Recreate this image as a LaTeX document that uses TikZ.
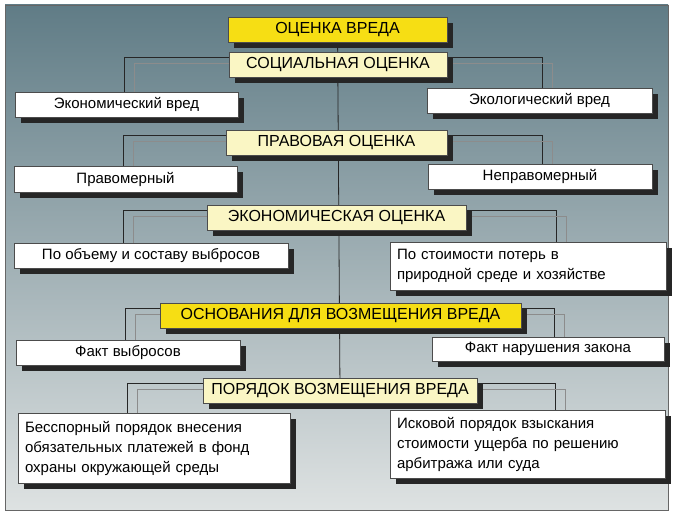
\documentclass[tikz,border=0pt]{standalone}
\usepackage{fontspec}
\setmainfont{Liberation Sans}
\usetikzlibrary{shadows}
\pgfdeclarelayer{back}
\pgfdeclarelayer{wires}
\pgfsetlayers{back,wires,main}
\definecolor{topblue}{RGB}{96,124,134}
\definecolor{lowgray}{RGB}{222,226,226}
\definecolor{gold}{RGB}{246,222,20}
\definecolor{pale}{RGB}{250,246,196}
\tikzset{
  box/.style={draw=black!70,fill=white,inner sep=0pt,font=\fontsize{15}{20}\selectfont,
    drop shadow={shadow xshift=6pt,shadow yshift=-6pt,fill=black!85,opacity=1}},
  head/.style={box,fill=pale,font=\fontsize{16}{18}\selectfont},
  mainhead/.style={head,fill=gold},
  link/.style={draw=black!85,line width=0.8pt},
  sublink/.style={draw=black!45,line width=0.8pt},
}
\begin{document}
\begin{tikzpicture}[x=1pt,y=-1pt]
\useasboundingbox (0,0) rectangle (676,521);
\begin{pgfonlayer}{back}
\fill[white] (0,0) rectangle (676,521);
\shade[top color=topblue,bottom color=lowgray,draw=black!60] (5,5) rectangle (668,510);
\end{pgfonlayer}

% headers
\node[mainhead,minimum width=219,minimum height=25] (harm) at (337.5,29.5) {ОЦЕНКА ВРЕДА};
\node[head,minimum width=218,minimum height=25] (social) at (338,64.5) {СОЦИАЛЬНАЯ ОЦЕНКА};
\node[head,minimum width=221,minimum height=25] (legal) at (336.5,142.5) {ПРАВОВАЯ ОЦЕНКА};
\node[head,minimum width=259,minimum height=25] (econ) at (336.5,217.5) {ЭКОНОМИЧЕСКАЯ ОЦЕНКА};
\node[mainhead,minimum width=361,minimum height=25] (ground) at (340.5,315.5) {ОСНОВАНИЯ ДЛЯ ВОЗМЕЩЕНИЯ ВРЕДА};
\node[head,minimum width=274,minimum height=25] (order) at (340,390.5) {ПОРЯДОК ВОЗМЕЩЕНИЯ ВРЕДА};

% children
\node[box,minimum width=223,minimum height=25] (econharm) at (126.5,104.5) {Экономический вред};
\node[box,minimum width=225,minimum height=25] (ecoharm) at (539.5,100.5) {Экологический вред};
\node[box,minimum width=223,minimum height=26] (lawful) at (125.5,179) {Правомерный};
\node[box,minimum width=224,minimum height=25] (unlawful) at (540,176.5) {Неправомерный};
\node[box,minimum width=274,minimum height=25] (volume) at (151,255.5) {По объему и составу выбросов};
\node[box,minimum width=276,minimum height=48,align=left,text width=262] (cost) at (528,266) {По стоимости потерь в\\природной среде и хозяйстве};
\node[box,minimum width=224,minimum height=25] (emission) at (128,352.5) {Факт выбросов};
\node[box,minimum width=232,minimum height=24] (breach) at (548,349) {Факт нарушения закона};
\node[box,minimum width=272,minimum height=70,align=left,text width=258] (undisputed) at (154,448) {Бесспорный порядок внесения\\обязательных платежей в фонд\\охраны окружающей среды};
\node[box,minimum width=275,minimum height=68,align=left,text width=261] (claim) at (527.5,444) {Исковой порядок взыскания\\стоимости ущерба по решению\\арбитража или суда};

% connectors
\begin{pgfonlayer}{wires}
\draw[link] (harm) -- (order);
\foreach \h/\l/\r in {social/econharm/ecoharm,legal/lawful/unlawful,econ/volume/cost,
  ground/emission/breach,order/undisputed/claim}{
  \draw[link] ([yshift=-6pt]\h.north west) -| ([xshift=110pt]\l.north west);
  \draw[sublink] ([yshift=-12pt]\h.north west) -| ([xshift=120pt]\l.north west);
  \draw[link] ([yshift=-6pt]\h.north east) -| ([xshift=-110pt]\r.north east);
  \draw[sublink] ([yshift=-12pt]\h.north east) -| ([xshift=-100pt]\r.north east);
}
\end{pgfonlayer}
\end{tikzpicture}
\end{document}
